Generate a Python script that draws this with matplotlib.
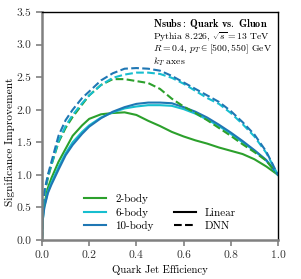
import matplotlib
matplotlib.use('Agg')
import matplotlib.pyplot as plt
from matplotlib.lines import Line2D

plt.rcParams['font.family'] = 'cmr10'
plt.rcParams['mathtext.fontset'] = 'cm'
plt.rcParams['axes.formatter.use_mathtext'] = True
plt.rcParams['axes.unicode_minus'] = False

# quark efficiency grid
eff = [0, 0.003, 0.01, 0.025, 0.04, 0.07, 0.1, 0.13, 0.17, 0.2, 0.25, 0.3, 0.35,
       0.4, 0.45, 0.5, 0.55, 0.6, 0.65, 0.7, 0.75, 0.8, 0.85, 0.9, 0.95, 1.0]

lin_2 = [0, 0.45, 0.55, 0.8, 0.95, 1.2, 1.4, 1.6, 1.76, 1.86, 1.93, 1.95, 1.96,
         1.92, 1.83, 1.75, 1.66, 1.59, 1.53, 1.48, 1.42, 1.37, 1.32, 1.24, 1.13, 1.0]
lin_6 = [0, 0.3, 0.52, 0.74, 0.88, 1.12, 1.33, 1.5, 1.66, 1.76, 1.88, 1.96, 2.02,
         2.05, 2.07, 2.07, 2.06, 2.01, 1.94, 1.85, 1.75, 1.63, 1.5, 1.37, 1.22, 1.0]
lin_10 = [0, 0.3, 0.5, 0.72, 0.85, 1.08, 1.3, 1.46, 1.63, 1.74, 1.87, 1.97, 2.04,
          2.09, 2.11, 2.11, 2.1, 2.04, 1.97, 1.88, 1.77, 1.65, 1.52, 1.38, 1.23, 1.0]

dnn_2 = [0, 0.4, 0.7, 0.95, 1.15, 1.5, 1.72, 1.89, 2.08, 2.22, 2.38, 2.47, 2.47,
         2.44, 2.41, 2.32, 2.17, 2.05, 1.95, 1.84, 1.72, 1.6, 1.47, 1.35, 1.22, 1.0]
dnn_6 = [0, 0.42, 0.72, 0.98, 1.16, 1.52, 1.75, 1.92, 2.1, 2.22, 2.38, 2.49, 2.54,
         2.57, 2.57, 2.55, 2.49, 2.4, 2.29, 2.18, 2.09, 1.95, 1.78, 1.59, 1.34, 1.0]
dnn_10 = [0, 0.45, 0.75, 1.0, 1.2, 1.6, 1.84, 2.0, 2.18, 2.28, 2.45, 2.56, 2.63,
          2.64, 2.63, 2.6, 2.52, 2.42, 2.32, 2.22, 2.12, 1.98, 1.81, 1.62, 1.36, 1.0]

labels = ['2-body', '6-body', '10-body']
colors = ['#2ca02c', '#17becf', '#1f77b4']

fig = plt.figure(figsize=(3.01, 2.79), dpi=100)
ax = fig.add_axes([0.1395, 0.1398, 0.784, 0.817])

for ys, c in zip([lin_2, lin_6, lin_10], colors):
    ax.plot(eff, ys, color=c, lw=1.5, ls='-')
for ys, c in zip([dnn_2, dnn_6, dnn_10], colors):
    ax.plot(eff, ys, color=c, lw=1.5, ls='--')
# green spike along the axis at zero efficiency
ax.plot([0, 0], [0, 1.07], color=colors[0], lw=1.5)

ax.set_xlim(0, 1)
ax.set_ylim(0, 3.5)
ax.set_xticks([0, 0.2, 0.4, 0.6, 0.8, 1.0])
ax.set_yticks([0, 0.5, 1.0, 1.5, 2.0, 2.5, 3.0, 3.5])
ax.set_xticklabels(['0.0', '0.2', '0.4', '0.6', '0.8', '1.0'])
ax.set_yticklabels(['0.0', '0.5', '1.0', '1.5', '2.0', '2.5', '3.0', '3.5'])
ax.tick_params(labelsize=8.3, length=4, width=1.2, color='#808080', labelcolor='#333333')
for s in ['left', 'bottom']:
    ax.spines[s].set_color('#808080')
    ax.spines[s].set_linewidth(1.8)
for s in ['top', 'right']:
    ax.spines[s].set_color('black')
    ax.spines[s].set_linewidth(1.0)

ax.set_xlabel('Quark Jet Efficiency', fontsize=7.7, labelpad=4)
ax.set_ylabel('Significance Improvement', fontsize=8.2)
ax.yaxis.set_label_coords(-0.115, 0.43)

ax.text(0.47, 3.27, r'$\mathbf{Nsubs{:}\ Quark\ vs.\ Gluon}$', fontsize=7.4, va='baseline')
ax.text(0.47, 3.085, r'Pythia 8.226, $\sqrt{s}=13$ TeV', fontsize=7.0, va='baseline')
ax.text(0.47, 2.895, r'$R=0.4$, $p_T\in[500,550]$ GeV', fontsize=7.0, va='baseline')
ax.text(0.47, 2.69, r'$k_T$ axes', fontsize=7.0, va='baseline')

h1 = [Line2D([], [], color=c, lw=1.5) for c in colors]
leg1 = ax.legend(h1, labels, loc='lower left', bbox_to_anchor=(0.16, 0.02),
                 frameon=False, fontsize=8, handlelength=2.0, labelspacing=0.3,
                 borderaxespad=0)
ax.add_artist(leg1)
h2 = [Line2D([], [], color='black', lw=1.5, ls='-'),
      Line2D([], [], color='black', lw=1.5, ls='--')]
ax.legend(h2, ['Linear', 'DNN'], loc='lower left', bbox_to_anchor=(0.54, 0.02),
          frameon=False, fontsize=8, handlelength=2.0, labelspacing=0.3,
          borderaxespad=0)

fig.savefig('out.png', dpi=100)
